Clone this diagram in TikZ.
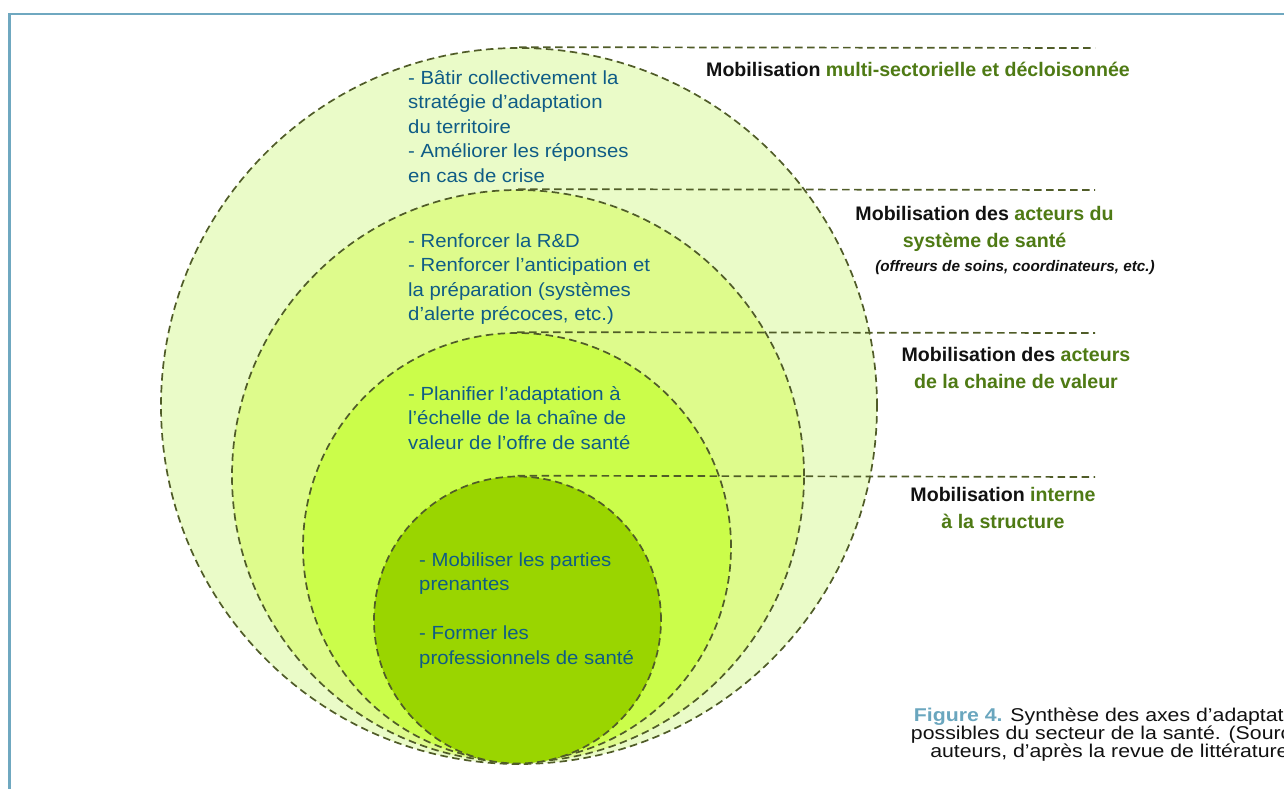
\documentclass[tikz,border=0pt]{standalone}
\usepackage{fontspec}
\setmainfont{Liberation Sans}
\newfontfamily\bluefont[FakeStretch=1.07]{Liberation Sans}
\newfontfamily\headfont{Liberation Sans}
\newfontfamily\capfont[FakeStretch=1.15]{Liberation Sans}
\definecolor{cOne}{HTML}{EAFBC8}
\definecolor{cTwo}{HTML}{DEFB8C}
\definecolor{cThree}{HTML}{CBFD4A}
\definecolor{cFour}{HTML}{9AD500}
\definecolor{cDash}{HTML}{505C28}
\definecolor{cBlue}{HTML}{0F5C86}
\definecolor{cGreen}{HTML}{4E7A14}
\definecolor{cCap}{HTML}{6AA6BE}
\definecolor{cFrame}{HTML}{6FA8C0}
\definecolor{cInk}{HTML}{111111}
\begin{document}
\begin{tikzpicture}[x=1pt,y=-1pt,
  ring/.style={circle, inner sep=0pt, draw=cDash, line width=1.7pt, dash pattern=on 7.5pt off 4.5pt},
  guide/.style={draw=cDash, line width=1.7pt, dash pattern=on 7.5pt off 4.5pt},
  bluetxt/.style={anchor=base west, align=left, inner sep=0pt, text=cBlue, font=\bluefont\fontsize{19}{24.5}\selectfont},
  head/.style={anchor=base, align=center, inner sep=0pt, text=cInk, font=\headfont\bfseries\fontsize{19.6}{27}\selectfont},
  subhead/.style={anchor=base, inner sep=0pt, text=cInk, font=\headfont\bfseries\itshape\fontsize{15.3}{18}\selectfont},
  captxt/.style={anchor=base, align=center, inner sep=0pt, text=cInk, font=\capfont\fontsize{18.5}{18}\selectfont},
  frameline/.style={draw=cFrame, line width=2.6pt}]
\useasboundingbox (0,0) rectangle (1284,789);
\draw[frameline] (9.5,789) -- (9.5,14) -- (1284,14);
% circles
\node[ring, fill=cOne, minimum size=716pt] (c1) at (519,406) {};
\node[ring, fill=cTwo, minimum size=572pt] (c2) at (518,476) {};
\node[ring, fill=cThree, minimum size=428pt] (c3) at (517,547) {};
\node[ring, fill=cFour, minimum size=287pt] (c4) at (517.5,620) {};
% guide lines
\coordinate (e1) at (1095,48);
\coordinate (e2) at (1095,190);
\coordinate (e3) at (1095,333);
\coordinate (e4) at (1095,477);
\draw[guide] (c1.north) -- (e1);
\draw[guide] (c2.north) -- (e2);
\draw[guide] (c3.north) -- (e3);
\draw[guide] (c4.north) -- (e4);
% texts in circles (anchored at the baseline of their last line)
\node[bluetxt] (t1) at (408,182) {- Bâtir collectivement la\\stratégie d’adaptation\\du territoire\\- Améliorer les réponses\\en cas de crise};
\node[bluetxt] (t2) at (408,320.5) {- Renforcer la R\&D\\- Renforcer l’anticipation et\\la préparation (systèmes\\d’alerte précoces, etc.)};
\node[bluetxt] (t3) at (408,449) {- Planifier l’adaptation à\\l’échelle de la chaîne de\\valeur de l’offre de santé};
\node[bluetxt] (t4) at (419,664) {- Mobiliser les parties\\prenantes\\[24.5pt]- Former les\\professionnels de santé};
% headings
\node[head] (h1) at (918,77) {Mobilisation \textcolor{cGreen}{multi-sectorielle et décloisonnée}};
\node[head] (h2) at (984.5,247) {Mobilisation des \textcolor{cGreen}{acteurs du}\\\textcolor{cGreen}{système de santé}};
\node[subhead] (h2b) at (1015,271) {(offreurs de soins, coordinateurs, etc.)};
\node[head] (h3) at (1016,388) {Mobilisation des \textcolor{cGreen}{acteurs}\\\textcolor{cGreen}{de la chaine de valeur}};
\node[head] (h4) at (1003,528) {Mobilisation \textcolor{cGreen}{interne}\\\textcolor{cGreen}{à la structure}};
% caption (cut off by the right edge, as in the reference)
\node[captxt] (cap) at (1113,757) {\textcolor{cCap}{\bfseries Figure 4.} Synthèse des axes d’adaptation\\possibles du secteur de la santé. (Source :\\auteurs, d’après la revue de littérature)};
\end{tikzpicture}
\end{document}
